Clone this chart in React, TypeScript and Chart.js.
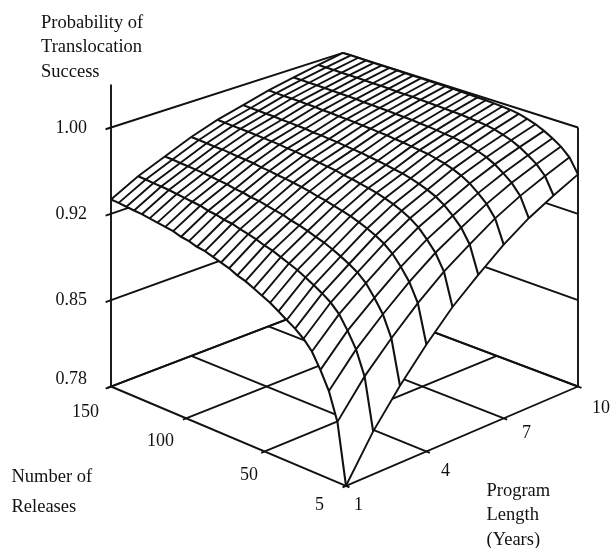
import React, { useEffect, useRef } from "react";
import { Chart, registerables } from "chart.js";

Chart.register(...registerables);

// ---- data ----
const releases = [5, 10, 15, 20, 25, 30, 35, 40, 45, 50, 55, 60, 65, 70, 75, 80, 85, 90, 95, 100, 105, 110, 115, 120, 125, 130, 135, 140, 145, 150];
const programYears = [1, 2, 3, 4, 5, 6, 7, 8, 9, 10];
const successTickLabels = ["0.78", "0.85", "0.92", "1.00"];
const releaseTickLabels = ["5", "50", "100", "150"];
const yearTickLabels = ["1", "4", "7", "10"];
const yAxisTitle = ["Probability of", "Translocation", "Success"];
const releaseTitle = ["Number of", "Releases"];
const yearTitle = ["Program", "Length", "(Years)"];

// height of the surface, in percent of the 0.78 to 1.00 axis; one row per release count, one column per year
const heightPct = [
  [0, 15.7, 28.4, 39.7, 49.8, 58.1, 65.8, 72.2, 77.3, 81.9],
  [22.0, 34.6, 44.7, 53.9, 61.9, 68.4, 74.6, 79.6, 83.7, 87.4],
  [32.0, 43.3, 52.4, 60.6, 67.8, 73.6, 79.0, 83.5, 87.2, 90.5],
  [38.5, 49.0, 57.3, 65.1, 71.7, 77.0, 82.0, 86.1, 89.5, 92.7],
  [44.0, 53.9, 61.6, 68.9, 75.1, 79.9, 84.6, 88.4, 91.6, 94.5],
  [47.5, 57.0, 64.4, 71.5, 77.4, 82.0, 86.5, 90.1, 93.2, 96.0],
  [50.0, 59.2, 66.4, 73.4, 79.1, 83.5, 87.9, 91.3, 94.3, 97.1],
  [52.0, 61.1, 68.1, 74.9, 80.5, 84.7, 89.0, 92.3, 95.3, 98.0],
  [54.0, 62.8, 69.6, 76.2, 81.6, 85.7, 89.8, 93.0, 95.9, 98.5],
  [56.0, 64.4, 71.0, 77.3, 82.6, 86.5, 90.5, 93.5, 96.3, 98.8],
  [57.5, 65.7, 72.0, 78.2, 83.3, 87.0, 90.9, 93.8, 96.5, 99.0],
  [59.0, 66.9, 73.1, 79.0, 83.9, 87.6, 91.3, 94.2, 96.8, 99.2],
  [60.5, 68.2, 74.1, 79.9, 84.6, 88.1, 91.7, 94.5, 97.0, 99.3],
  [61.5, 69.0, 74.8, 80.4, 85.0, 88.5, 92.0, 94.7, 97.1, 99.4],
  [63.0, 70.2, 75.8, 81.2, 85.7, 89.0, 92.4, 95.0, 97.3, 99.5],
  [64.0, 71.0, 76.4, 81.8, 86.1, 89.3, 92.6, 95.1, 97.4, 99.6],
  [65.0, 71.8, 77.1, 82.3, 86.5, 89.6, 92.9, 95.3, 97.6, 99.6],
  [66.0, 72.7, 77.8, 82.8, 86.9, 90.0, 93.1, 95.5, 97.7, 99.7],
  [66.5, 73.1, 78.1, 83.1, 87.2, 90.2, 93.3, 95.6, 97.7, 99.7],
  [67.5, 73.9, 78.8, 83.6, 87.6, 90.5, 93.5, 95.7, 97.8, 99.8],
  [68.0, 74.3, 79.1, 83.9, 87.8, 90.6, 93.6, 95.8, 97.9, 99.8],
  [69.0, 75.1, 79.8, 84.4, 88.2, 91.0, 93.8, 96.0, 98.0, 99.8],
  [69.5, 75.5, 80.1, 84.7, 88.4, 91.1, 93.9, 96.1, 98.0, 99.9],
  [70.0, 75.9, 80.5, 84.9, 88.6, 91.3, 94.1, 96.2, 98.1, 99.9],
  [70.5, 76.3, 80.8, 85.2, 88.8, 91.4, 94.2, 96.2, 98.2, 99.9],
  [71.0, 76.7, 81.1, 85.5, 89.0, 91.6, 94.3, 96.3, 98.2, 99.9],
  [71.3, 77.0, 81.3, 85.6, 89.1, 91.7, 94.4, 96.4, 98.2, 99.9],
  [71.6, 77.2, 81.5, 85.8, 89.2, 91.8, 94.4, 96.4, 98.3, 100],
  [72.0, 77.5, 81.8, 86.0, 89.4, 91.9, 94.5, 96.5, 98.3, 100],
  [72.2, 77.7, 81.9, 86.1, 89.5, 92.0, 94.6, 96.5, 98.3, 100],
];

// ---- layout and style ----
const W = 611;
const H = 548;
const INK = "#111111";
const TITLE_FONT = '18.5px "Liberation Serif", serif';
const TICK_FONT = '18px "Liberation Serif", serif';

type P = { x: number; y: number };

// perspective view of the unit box: u = releases (0 front, 1 left), v = years (0 front, 1 right), z = height
function project(u: number, v: number, z: number): P {
  const s = u + v;
  const w = 1 + 0.057 * (s - 1);
  return {
    x: 344.5 - (s - 1) * 1.5 + ((v - u) * 233.5) / w,
    y: -100 + (486.5 + (1 - s) * 65.9 - z * 259) / w,
  };
}

const uOf = (i: number) => i / (releases.length - 1);
const vOf = (k: number) => k / (programYears.length - 1);
const surf = (i: number, k: number) => project(uOf(i), vOf(k), heightPct[i][k] / 100);

function line(data: P[], order: number, borderWidth: number) {
  return { data, order, borderWidth, borderColor: INK, showLine: true, pointRadius: 0, fill: false, tension: 0 };
}

function buildDatasets() {
  const sets: any[] = [];
  const nR = releases.length;
  const nY = programYears.length;
  const WALL_TICK = 0.022;
  const FLOOR_TICK = 0.014;
  const FRAME = 1.9;

  // walls, with a short tick past the left axis
  successTickLabels.forEach((_, n) => {
    const z = n / (successTickLabels.length - 1);
    sets.push(line([project(1, -WALL_TICK, z), project(1, 1, z)], 3, FRAME));
    sets.push(line([project(1, 1, z), project(0, 1, z)], 3, FRAME));
  });
  sets.push(line([project(1, 0, 0), project(1, 0, 1.166)], 3, FRAME));
  sets.push(line([project(0, 1, 0), project(0, 1, 1)], 3, FRAME));

  // floor
  releaseTickLabels.forEach((_, n) => {
    const u = n / (releaseTickLabels.length - 1);
    sets.push(line([project(u, -FLOOR_TICK, 0), project(u, 1, 0)], 3, FRAME));
  });
  yearTickLabels.forEach((_, n) => {
    const v = n / (yearTickLabels.length - 1);
    sets.push(line([project(-FLOOR_TICK, v, 0), project(1, v, 0)], 3, FRAME));
  });

  // opaque outline of the surface hides what lies behind it
  const outline: P[] = [];
  for (let i = 0; i < nR; i++) outline.push(surf(i, 0));
  for (let k = 1; k < nY; k++) outline.push(surf(nR - 1, k));
  for (let i = nR - 2; i >= 0; i--) outline.push(surf(i, nY - 1));
  for (let k = nY - 2; k >= 0; k--) outline.push(surf(0, k));
  sets.push({ data: outline, order: 2, showLine: true, borderWidth: 0, borderColor: "#ffffff", backgroundColor: "#ffffff", pointRadius: 0, fill: "shape", tension: 0 });

  // mesh
  for (let i = 0; i < nR; i++) {
    sets.push(line(programYears.map((_, k) => surf(i, k)), 1, 1.9));
  }
  for (let k = 0; k < nY; k++) {
    sets.push(line(releases.map((_, i) => surf(i, k)), 1, 2.1));
  }
  return sets;
}

const textPlacement: { lines: string[]; x: number; y: number; gap: number; align: CanvasTextAlign; font: string }[] = [
  { lines: yAxisTitle, x: 41, y: 23, gap: 24.5, align: "left", font: TITLE_FONT },
  { lines: releaseTitle, x: 11.5, y: 477, gap: 30, align: "left", font: TITLE_FONT },
  { lines: yearTitle, x: 486.5, y: 491, gap: 24.5, align: "left", font: TITLE_FONT },
  { lines: [successTickLabels[3]], x: 87, y: 128, gap: 0, align: "right", font: TICK_FONT },
  { lines: [successTickLabels[2]], x: 87, y: 214, gap: 0, align: "right", font: TICK_FONT },
  { lines: [successTickLabels[1]], x: 87, y: 300, gap: 0, align: "right", font: TICK_FONT },
  { lines: [successTickLabels[0]], x: 87, y: 379, gap: 0, align: "right", font: TICK_FONT },
  { lines: [releaseTickLabels[3]], x: 99, y: 412, gap: 0, align: "right", font: TICK_FONT },
  { lines: [releaseTickLabels[2]], x: 174, y: 441, gap: 0, align: "right", font: TICK_FONT },
  { lines: [releaseTickLabels[1]], x: 258, y: 475, gap: 0, align: "right", font: TICK_FONT },
  { lines: [releaseTickLabels[0]], x: 324, y: 505, gap: 0, align: "right", font: TICK_FONT },
  { lines: [yearTickLabels[0]], x: 354, y: 505, gap: 0, align: "left", font: TICK_FONT },
  { lines: [yearTickLabels[1]], x: 441, y: 471, gap: 0, align: "left", font: TICK_FONT },
  { lines: [yearTickLabels[2]], x: 522, y: 433, gap: 0, align: "left", font: TICK_FONT },
  { lines: [yearTickLabels[3]], x: 592, y: 408, gap: 0, align: "left", font: TICK_FONT },
];

const textPlugin = {
  id: "surfaceText",
  afterDraw(chart: any) {
    const ctx = chart.ctx as CanvasRenderingContext2D;
    ctx.save();
    ctx.fillStyle = INK;
    ctx.textBaseline = "middle";
    for (const t of textPlacement) {
      ctx.font = t.font;
      ctx.textAlign = t.align;
      t.lines.forEach((s, n) => ctx.fillText(s, t.x, t.y + n * t.gap));
    }
    ctx.restore();
  },
};

export default function App() {
  const ref = useRef<HTMLCanvasElement>(null);
  useEffect(() => {
    const chart = new Chart(ref.current as HTMLCanvasElement, {
      type: "scatter",
      data: { datasets: buildDatasets() },
      options: {
        animation: false,
        responsive: false,
        layout: { padding: 0 },
        plugins: { legend: { display: false }, tooltip: { enabled: false } },
        scales: {
          x: { type: "linear", min: 0, max: W, display: false },
          y: { type: "linear", min: 0, max: H, reverse: true, display: false },
        },
      },
      plugins: [textPlugin],
    } as any);
    return () => chart.destroy();
  }, []);
  return (
    <canvas
      ref={ref}
      width={W}
      height={H}
      style={{ position: "absolute", left: 0, top: 0, display: "block", background: "#ffffff" }}
    />
  );
}
